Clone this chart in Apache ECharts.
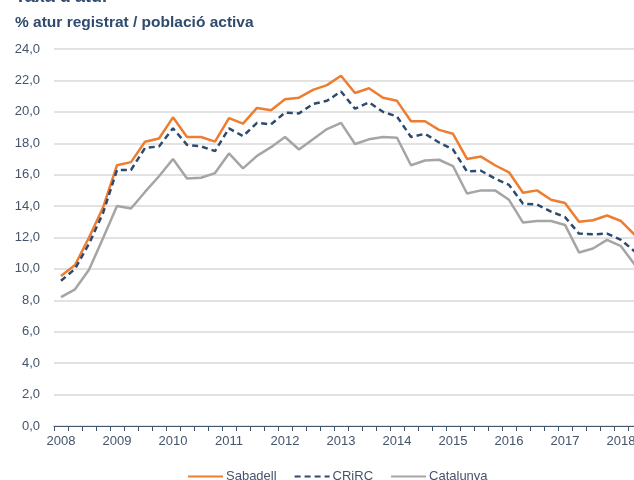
<!DOCTYPE html>
<html>
<head>
<meta charset="utf-8">
<script src="https://cdn.jsdelivr.net/npm/echarts@6/dist/echarts.min.js"></script>
<style>
  html, body { margin: 0; padding: 0; background: #fff; }
  #chart { width: 634px; height: 480px; }
</style>
</head>
<body>
<div id="chart"></div>
<script>
// quarters 2008 T1 .. 2018 T2
const years = ['2008', '2009', '2010', '2011', '2012', '2013', '2014', '2015', '2016', '2017', '2018']
const quarters = []
years.forEach((y) => {
  for (let q = 1; q <= 4; q++) quarters.push(y + ' T' + q)
})
quarters.length = 42

const sabadell = [
  9.55, 10.25, 12.0, 13.9, 16.6, 16.8, 18.1, 18.3, 19.65, 18.4, 18.4, 18.1,
  19.6, 19.25, 20.25, 20.1, 20.8, 20.9, 21.4, 21.7, 22.3, 21.2, 21.5, 20.9,
  20.7, 19.4, 19.4, 18.85, 18.6, 17.0, 17.15, 16.6, 16.15, 14.85, 15.0, 14.4,
  14.2, 13.0, 13.1, 13.4, 13.05, 12.15,
]
const crirc = [
  9.25, 10.0, 11.6, 13.55, 16.3, 16.3, 17.7, 17.8, 18.95, 17.9, 17.8, 17.5,
  18.95, 18.45, 19.3, 19.2, 19.95, 19.9, 20.5, 20.7, 21.3, 20.2, 20.6, 20.0,
  19.7, 18.4, 18.6, 18.05, 17.6, 16.2, 16.25, 15.75, 15.35, 14.15, 14.1, 13.65,
  13.3, 12.25, 12.2, 12.25, 11.85, 11.1,
]
const catalunya = [
  8.2, 8.7, 9.95, 11.95, 14.0, 13.85, 14.9, 15.9, 17.0, 15.75, 15.8, 16.1,
  17.35, 16.4, 17.2, 17.75, 18.4, 17.6, 18.25, 18.9, 19.3, 17.95, 18.25, 18.4,
  18.35, 16.6, 16.9, 16.95, 16.55, 14.8, 15.0, 15.0, 14.4, 12.95, 13.05, 13.05,
  12.8, 11.05, 11.3, 11.85, 11.45, 10.25,
]

const font = 'Liberation Sans, Arial, sans-serif'
const axisColor = '#44546A'

const chart = echarts.init(document.getElementById('chart'))

chart.setOption({
  animation: false,
  textStyle: { fontFamily: font },
  title: [
    {
      text: "Taxa d'atur",
      left: 10,
      top: -17,
      textStyle: { fontFamily: font, fontSize: 18, fontWeight: 'bold', color: '#2F4B6E' },
    },
    {
      text: '% atur registrat / població activa',
      left: 10,
      top: 10,
      textStyle: { fontFamily: font, fontSize: 15.5, fontWeight: 'bold', color: '#2F4B6E' },
    },
  ],
  legend: {
    bottom: -3,
    left: 187,
    padding: 0,
    itemWidth: 35,
    itemHeight: 10,
    itemGap: 17,
    itemStyle: { opacity: 0 },
    textStyle: { fontFamily: font, fontSize: 13, color: axisColor, padding: [0, 0, 0, -2] },
    data: ['Sabadell', 'CRiRC', 'Catalunya'],
  },
  grid: {
    left: 54,
    top: 49,
    right: -8,
    bottom: 54,
    outerBoundsMode: 'none',
  },
  xAxis: {
    type: 'category',
    data: quarters,
    boundaryGap: true,
    axisLine: { lineStyle: { color: axisColor, width: 1 } },
    axisTick: { show: true, interval: 0, length: 5, lineStyle: { color: axisColor, width: 1 } },
    axisLabel: {
      interval: 3,
      margin: 9,
      fontSize: 13,
      color: axisColor,
      formatter: (v) => v.slice(0, 4),
    },
  },
  yAxis: {
    type: 'value',
    min: 0,
    max: 24,
    interval: 2,
    axisLine: { show: false },
    axisTick: { show: false },
    axisLabel: {
      fontSize: 13,
      color: axisColor,
      margin: 14,
      formatter: (v) => v.toFixed(1).replace('.', ','),
    },
    splitLine: { lineStyle: { color: '#D9D9D9', width: 1.5 } },
  },
  series: [
    {
      name: 'Sabadell',
      type: 'line',
      data: sabadell,
      symbol: 'none',
      z: 3,
      lineStyle: { color: '#ED7D31', width: 2.5 },
      itemStyle: { color: '#ED7D31' },
    },
    {
      name: 'CRiRC',
      type: 'line',
      data: crirc,
      symbol: 'none',
      z: 4,
      lineStyle: { color: '#2E4A6E', width: 2.5, type: [6, 4] },
      itemStyle: { color: '#2E4A6E' },
    },
    {
      name: 'Catalunya',
      type: 'line',
      data: catalunya,
      symbol: 'none',
      z: 2,
      lineStyle: { color: '#A5A5A5', width: 2.5 },
      itemStyle: { color: '#A5A5A5' },
    },
  ],
})
</script>
</body>
</html>
